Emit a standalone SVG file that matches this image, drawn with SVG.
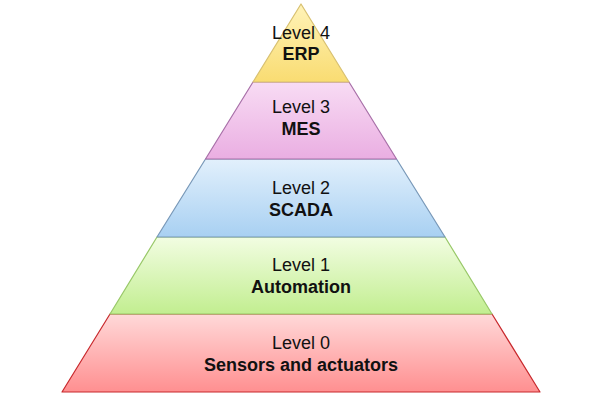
<svg xmlns="http://www.w3.org/2000/svg" width="600" height="400" viewBox="0 0 600 400">
<defs>
<linearGradient id="g4" x1="0" y1="0" x2="0" y2="1"><stop offset="0" stop-color="#fff3b8"/><stop offset="1" stop-color="#f9dc72"/></linearGradient>
<linearGradient id="g3" x1="0" y1="0" x2="0" y2="1"><stop offset="0" stop-color="#f8dcf4"/><stop offset="1" stop-color="#eaaee2"/></linearGradient>
<linearGradient id="g2" x1="0" y1="0" x2="0" y2="1"><stop offset="0" stop-color="#e2f0fc"/><stop offset="1" stop-color="#a8d0f2"/></linearGradient>
<linearGradient id="g1" x1="0" y1="0" x2="0" y2="1"><stop offset="0" stop-color="#f2fde2"/><stop offset="1" stop-color="#c2ee90"/></linearGradient>
<linearGradient id="g0" x1="0" y1="0" x2="0" y2="1"><stop offset="0" stop-color="#ffd9d9"/><stop offset="1" stop-color="#ff8f90"/></linearGradient>
</defs>
<style>
.t{font-family:"Liberation Sans",Arial,sans-serif;font-size:18px;fill:#111;text-anchor:middle}
.b{font-weight:bold}
polygon{stroke-width:1.2;stroke-linejoin:round}
</style>
<rect width="600" height="400" fill="#fff"/>
<g id="level0">
<polygon points="110,314 492,314 540,392 62,392" fill="url(#g0)" stroke="#c8282c"/>
<text class="t" x="301" y="349">Level 0</text>
<text class="t b" x="301" y="371">Sensors and actuators</text>
</g>
<g id="level1">
<polygon points="157,237 445,237 492,314 110,314" fill="url(#g1)" stroke="#98c868"/>
<text class="t" x="301" y="271">Level 1</text>
<text class="t b" x="301" y="293">Automation</text>
</g>
<g id="level2">
<polygon points="205.5,159 396.5,159 445,237 157,237" fill="url(#g2)" stroke="#7898b8"/>
<text class="t" x="301" y="194">Level 2</text>
<text class="t b" x="301" y="216">SCADA</text>
</g>
<g id="level3">
<polygon points="253,82 349,82 396.5,159 205.5,159" fill="url(#g3)" stroke="#a870a8"/>
<text class="t" x="301" y="113">Level 3</text>
<text class="t b" x="301" y="135">MES</text>
</g>
<g id="level4">
<polygon points="301,4 349,82 253,82" fill="url(#g4)" stroke="#d8c070"/>
<text class="t" x="301" y="39">Level 4</text>
<text class="t b" x="301" y="60">ERP</text>
</g>
<g id="connectors"/>
</svg>
